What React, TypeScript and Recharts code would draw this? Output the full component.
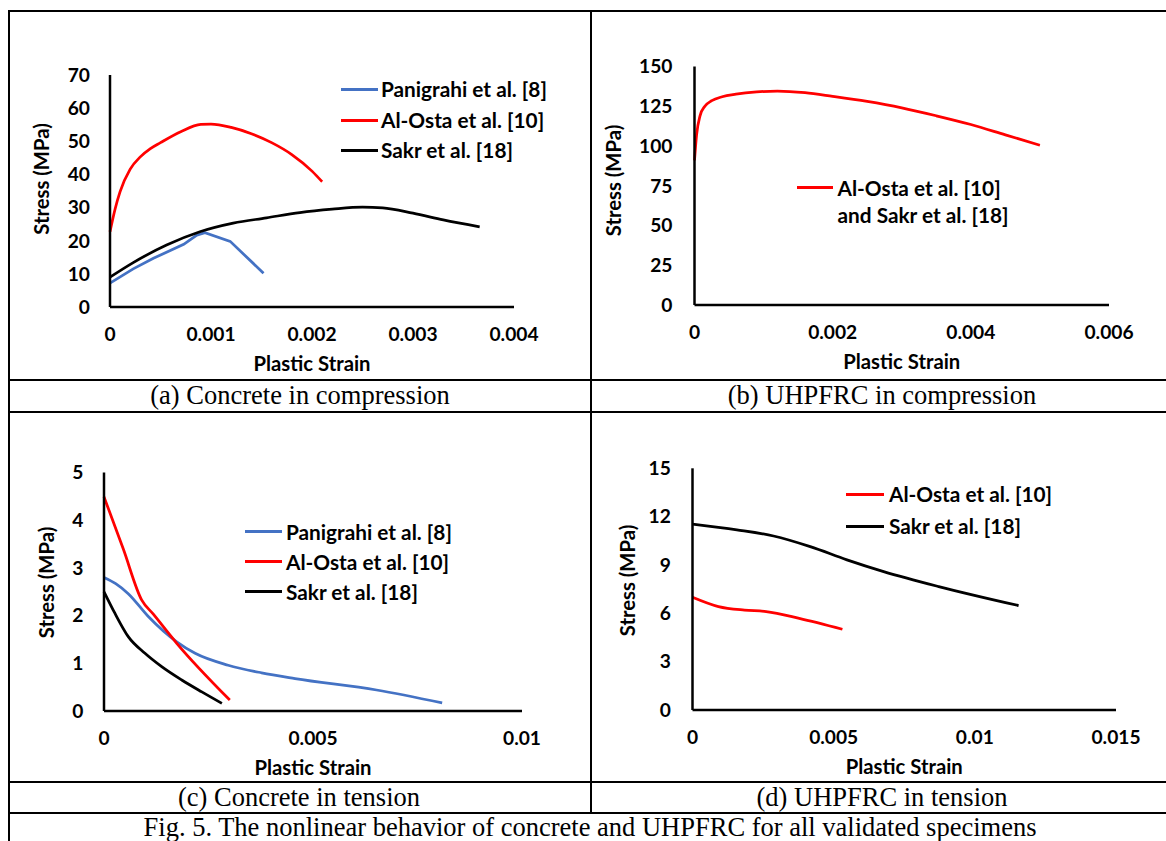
import React from 'react';
import { LineChart, Line, XAxis, YAxis, Legend } from 'recharts';

const FONT = "Lato, 'Open Sans', sans-serif";
const SERIF = "'Liberation Serif', 'Times New Roman', serif";
const BLUE = '#4472C4';
const RED = '#FF0000';
const BLACK = '#000000';

// ---------- (a) Concrete in compression ----------
const aXTicks = [0, 0.001, 0.002, 0.003, 0.004];
const aYTicks = [0, 10, 20, 30, 40, 50, 60, 70];
const aPanigrahiStrain = [0, 0.00023, 0.00043, 0.00073, 0.00086, 0.00094, 0.00119, 0.00152];
const aPanigrahiStress = [7.2, 11.5, 14.7, 18.9, 21.7, 22.4, 19.8, 10.2];
const aAlOstaStrain = [0, 0.00005, 0.0001, 0.0002, 0.0003, 0.0004, 0.0005, 0.0007, 0.0009, 0.001, 0.0012, 0.0014, 0.0016, 0.0018, 0.002, 0.0021];
const aAlOstaStress = [22.7, 29.5, 34.8, 41.6, 45.3, 47.8, 49.6, 52.9, 55.1, 55.2, 54.2, 52.3, 49.6, 46, 41, 37.8];
const aSakrStrain = [0, 0.00023, 0.00056, 0.00089, 0.00122, 0.00155, 0.00188, 0.0022, 0.0025, 0.0027, 0.003, 0.0033, 0.00366];
const aSakrStress = [9, 13.4, 18.7, 22.7, 25.3, 26.9, 28.5, 29.5, 30.1, 29.9, 28.3, 26.3, 24.2];

// ---------- (b) UHPFRC in compression ----------
const bXTicks = [0, 0.002, 0.004, 0.006];
const bYTicks = [0, 25, 50, 75, 100, 125, 150];
const bStrain = [0, 0.00003, 0.00008, 0.00015, 0.00025, 0.0004, 0.0006, 0.0009, 0.0012, 0.0016, 0.002, 0.0025, 0.003, 0.0035, 0.004, 0.0045, 0.005];
const bStress = [91, 107, 119, 125, 128.5, 131, 132.6, 134, 134.5, 133.5, 131.2, 128, 124, 119, 113.5, 107, 100.5];

// ---------- (c) Concrete in tension ----------
const cXTicks = [0, 0.005, 0.01];
const cYTicks = [0, 1, 2, 3, 4, 5];
const cPanigrahiStrain = [0, 0.00028, 0.00058, 0.00106, 0.00174, 0.00218, 0.00297, 0.00377, 0.00457, 0.00652, 0.00809];
const cPanigrahiStress = [2.8, 2.67, 2.46, 1.98, 1.45, 1.21, 0.96, 0.8, 0.68, 0.44, 0.17];
const cAlOstaStrain = [0, 0.00046, 0.0009, 0.00118, 0.00174, 0.00301];
const cAlOstaStress = [4.49, 3.4, 2.33, 2.03, 1.42, 0.23];
const cSakrStrain = [0, 0.00026, 0.00058, 0.00098, 0.00138, 0.00186, 0.00234, 0.00282];
const cSakrStress = [2.5, 2.05, 1.56, 1.21, 0.93, 0.65, 0.4, 0.16];

// ---------- (d) UHPFRC in tension ----------
const dXTicks = [0, 0.005, 0.01, 0.015];
const dYTicks = [0, 3, 6, 9, 12, 15];
const dAlOstaStrain = [0, 0.00092, 0.00184, 0.00261, 0.00378, 0.00531];
const dAlOstaStress = [7.0, 6.42, 6.2, 6.11, 5.69, 5.01];
const dSakrStrain = [0, 0.00157, 0.00287, 0.00417, 0.00547, 0.00677, 0.00872, 0.01155];
const dSakrStress = [11.53, 11.18, 10.8, 10.14, 9.32, 8.59, 7.66, 6.48];

const NAME_PANIGRAHI = 'Panigrahi et al. [8]';
const NAME_ALOSTA = 'Al-Osta et al. [10]';
const NAME_SAKR = 'Sakr et al. [18]';
const NAME_BOTH = 'Al-Osta et al. [10]\nand Sakr et al. [18]';

const captions = ['(a) Concrete in compression', '(b) UHPFRC in compression', '(c) Concrete in tension', '(d) UHPFRC in tension'];
const figCaption = 'Fig. 5. The nonlinear behavior of concrete and UHPFRC for all validated specimens';

const zip = (xs: number[], ys: number[]) => xs.map((x, i) => ({ x, y: ys[i] }));

type Series = { name: string; color: string; data: { x: number; y: number }[]; curve: 'monotone' | 'linear' };

type PanelCfg = {
  left: number; top: number; width: number; height: number;
  plotLeft: number; plotRight: number; plotTop: number; plotBottom: number;
  xDomain: [number, number]; xTicks: number[];
  yDomain: [number, number]; yTicks: number[];
  yTickGap: number;
  series: Series[];
  yLabel: { cx: number; cy: number };
  legend: { left: number; top: number; lineW: number; gap: number; rowH: number };
};

const tickStyle = { fontFamily: FONT, fontWeight: 700, fontSize: 19.2, fill: '#000' };
const TITLE_SIZE = 20.3;
const LEGEND_SIZE = 20.8;

function LegendBox({ series, cfg }: { series: Series[]; cfg: PanelCfg['legend'] }) {
  return (
    <div style={{ fontFamily: FONT, fontWeight: 700, fontSize: LEGEND_SIZE, color: '#000' }}>
      {series.map((s) => (
        <div key={s.name} style={{ display: 'flex', alignItems: 'flex-start' }}>
          <span style={{ display: 'inline-block', flex: 'none', width: cfg.lineW, height: 3, marginTop: cfg.rowH / 2 - 1.5, background: s.color }} />
          <span style={{ marginLeft: cfg.gap, lineHeight: cfg.rowH + 'px', whiteSpace: 'pre', display: 'inline-block' }}>{s.name}</span>
        </div>
      ))}
    </div>
  );
}

function Panel({ cfg }: { cfg: PanelCfg }) {
  const xTitle = () => (
    <text
      x={(cfg.plotLeft + cfg.plotRight) / 2}
      y={cfg.plotBottom + 64}
      textAnchor="middle"
      style={{ fontFamily: FONT, fontWeight: 700, fontSize: TITLE_SIZE }}
      fill="#000"
    >
      Plastic Strain
    </text>
  );
  const yTitle = () => (
    <text
      x={cfg.yLabel.cx}
      y={cfg.yLabel.cy}
      dy="0.36em"
      textAnchor="middle"
      transform={`rotate(-90 ${cfg.yLabel.cx} ${cfg.yLabel.cy})`}
      style={{ fontFamily: FONT, fontWeight: 700, fontSize: TITLE_SIZE }}
      fill="#000"
    >
      Stress (MPa)
    </text>
  );
  return (
    <div style={{ position: 'absolute', left: cfg.left, top: cfg.top, width: cfg.width, height: cfg.height }}>
      <LineChart
        width={cfg.width}
        height={cfg.height}
        margin={{ top: cfg.plotTop, right: cfg.width - cfg.plotRight, left: 0, bottom: 0 }}
      >
        <XAxis
          type="number"
          dataKey="x"
          domain={cfg.xDomain}
          ticks={cfg.xTicks}
          interval={0}
          height={cfg.height - cfg.plotBottom}
          axisLine={{ stroke: '#000', strokeWidth: 2.5 }}
          tickLine={false}
          tickSize={0}
          tickMargin={20}
          tick={tickStyle}
          tickFormatter={(v: number) => String(v)}
          label={xTitle}
        />
        <YAxis
          type="number"
          domain={cfg.yDomain}
          ticks={cfg.yTicks}
          interval={0}
          width={cfg.plotLeft}
          axisLine={{ stroke: '#000', strokeWidth: 2.5 }}
          tickLine={false}
          tickSize={0}
          tickMargin={cfg.yTickGap}
          tick={tickStyle}
          label={yTitle}
        />
        {cfg.series.map((s) => (
          <Line
            key={s.name}
            name={s.name}
            data={s.data}
            dataKey="y"
            type={s.curve}
            stroke={s.color}
            strokeWidth={2.75}
            dot={false}
            activeDot={false}
            isAnimationActive={false}
          />
        ))}
        <Legend
          layout="vertical"
          align="center"
          verticalAlign="middle"
          wrapperStyle={{ left: cfg.legend.left, top: cfg.legend.top, width: 'auto', height: 'auto' }}
          content={() => <LegendBox series={cfg.series} cfg={cfg.legend} />}
        />
      </LineChart>
    </div>
  );
}

const panelA: PanelCfg = {
  left: 0, top: 0, width: 590, height: 378,
  plotLeft: 110, plotRight: 514, plotTop: 75, plotBottom: 307,
  xDomain: [0, 0.004], xTicks: aXTicks, yDomain: [0, 70], yTicks: aYTicks, yTickGap: 20,
  series: [
    { name: NAME_PANIGRAHI, color: BLUE, data: zip(aPanigrahiStrain, aPanigrahiStress), curve: 'linear' },
    { name: NAME_ALOSTA, color: RED, data: zip(aAlOstaStrain, aAlOstaStress), curve: 'monotone' },
    { name: NAME_SAKR, color: BLACK, data: zip(aSakrStrain, aSakrStress), curve: 'monotone' },
  ],
  yLabel: { cx: 41.5, cy: 179 },
  legend: { left: 341, top: 74, lineW: 37, gap: 3, rowH: 30.7 },
};

const panelB: PanelCfg = {
  left: 592, top: 0, width: 574, height: 378,
  plotLeft: 102.5, plotRight: 517, plotTop: 66.5, plotBottom: 305,
  xDomain: [0, 0.006], xTicks: bXTicks, yDomain: [0, 150], yTicks: bYTicks, yTickGap: 22,
  series: [
    { name: NAME_BOTH, color: RED, data: zip(bStrain, bStress), curve: 'monotone' },
  ],
  yLabel: { cx: 21.9, cy: 180.5 },
  legend: { left: 205, top: 173.5, lineW: 36, gap: 4.5, rowH: 27.7 },
};

const panelC: PanelCfg = {
  left: 0, top: 413, width: 590, height: 368,
  plotLeft: 104, plotRight: 522, plotTop: 59.5, plotBottom: 298,
  xDomain: [0, 0.01], xTicks: cXTicks, yDomain: [0, 5], yTicks: cYTicks, yTickGap: 20.5,
  series: [
    { name: NAME_PANIGRAHI, color: BLUE, data: zip(cPanigrahiStrain, cPanigrahiStress), curve: 'monotone' },
    { name: NAME_ALOSTA, color: RED, data: zip(cAlOstaStrain, cAlOstaStress), curve: 'monotone' },
    { name: NAME_SAKR, color: BLACK, data: zip(cSakrStrain, cSakrStress), curve: 'monotone' },
  ],
  yLabel: { cx: 47, cy: 169.5 },
  legend: { left: 244.6, top: 103.7, lineW: 37.7, gap: 3.7, rowH: 30 },
};

const panelD: PanelCfg = {
  left: 592, top: 413, width: 574, height: 368,
  plotLeft: 100.5, plotRight: 524, plotTop: 55.3, plotBottom: 297,
  xDomain: [0, 0.015], xTicks: dXTicks, yDomain: [0, 15], yTicks: dYTicks, yTickGap: 21.7,
  series: [
    { name: NAME_ALOSTA, color: RED, data: zip(dAlOstaStrain, dAlOstaStress), curve: 'monotone' },
    { name: NAME_SAKR, color: BLACK, data: zip(dSakrStrain, dSakrStress), curve: 'monotone' },
  ],
  yLabel: { cx: 36.2, cy: 167.5 },
  legend: { left: 254.4, top: 65, lineW: 37.6, gap: 5, rowH: 32 },
};

const hLine = (top: number, left: number, width: number) => (
  <div style={{ position: 'absolute', top, left, width, height: 2, background: '#000' }} />
);
const vLine = (left: number, top: number, height: number) => (
  <div style={{ position: 'absolute', top, left, width: 2, height, background: '#000' }} />
);

const captionStyle = (left: number, top: number, width: number, height: number): React.CSSProperties => ({
  position: 'absolute', left, top, width, height, lineHeight: height + 'px', textAlign: 'center',
  fontFamily: SERIF, fontSize: 26.5, color: '#000', whiteSpace: 'nowrap',
});

export default function App() {
  return (
    <div style={{ position: 'absolute', left: 0, top: 0, width: 1166, height: 841, background: '#fff', overflow: 'hidden' }}>
      <Panel cfg={panelA} />
      <Panel cfg={panelB} />
      <Panel cfg={panelC} />
      <Panel cfg={panelD} />
      {hLine(10, 8, 1158)}
      {hLine(379, 8, 1158)}
      {hLine(411, 8, 1158)}
      {hLine(781, 8, 1158)}
      {hLine(812, 8, 1158)}
      {vLine(8, 10, 831)}
      {vLine(590, 10, 803)}
      <div style={captionStyle(10, 380, 580, 31)}>{captions[0]}</div>
      <div style={captionStyle(592, 380, 580, 31)}>{captions[1]}</div>
      <div style={captionStyle(10, 783, 578, 29)}>{captions[2]}</div>
      <div style={captionStyle(592, 783, 580, 29)}>{captions[3]}</div>
      <div style={captionStyle(8, 811.5, 1164, 30)}>{figCaption}</div>
    </div>
  );
}
